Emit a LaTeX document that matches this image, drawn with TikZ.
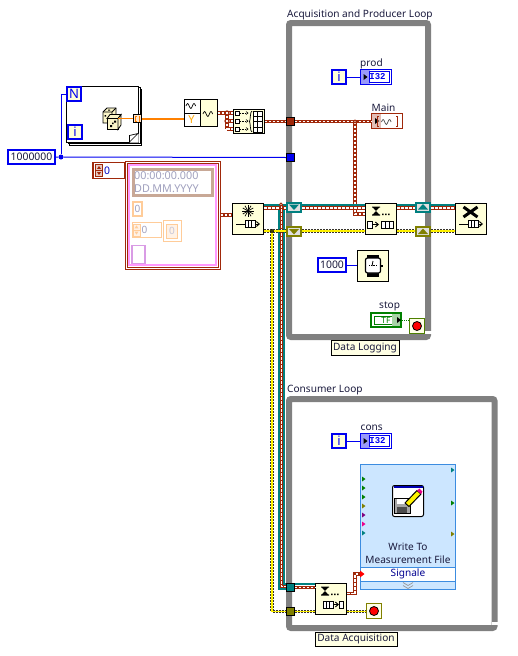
\documentclass[tikz,border=0pt]{standalone}
\usepackage{fontspec}
\setmainfont{Noto Sans}
\newfontfamily\lvmono{Liberation Mono}
\usepackage{xcolor}
\definecolor{lvblue}{RGB}{0,0,240}
\definecolor{lvbrown}{RGB}{160,40,10}
\definecolor{lvteal}{RGB}{0,128,128}
\definecolor{lvolive}{RGB}{128,128,0}
\definecolor{lvgreen}{RGB}{0,128,0}
\definecolor{lvorange}{RGB}{255,128,0}
\definecolor{lvgray}{RGB}{128,128,128}
\definecolor{lvcream}{RGB}{255,255,217}
\definecolor{lvtext}{RGB}{25,25,60}
\definecolor{lvpeach}{RGB}{255,204,153}
\definecolor{lvpink}{RGB}{255,153,255}
\definecolor{lvtan}{RGB}{200,168,150}
\definecolor{lvghost}{RGB}{160,160,190}
\definecolor{lvsky}{RGB}{204,230,255}
\definecolor{lvedge}{RGB}{60,140,224}
\usetikzlibrary{arrows.meta,positioning,calc}
\tikzset{
  lvlabel/.style={font=\fontsize{10.1}{12}\selectfont, text=lvtext, inner sep=0pt, anchor=west, yshift=-1.5pt},
  loopframe/.style={draw=lvgray, line width=6pt, rounded corners=2pt, inner sep=0pt},
  loopnote/.style={draw=black, line width=.8pt, fill=lvcream!70!white, inner sep=0pt, font=\fontsize{10.1}{12}\selectfont, text=lvtext},
  iterbox/.style={draw=lvblue, line width=2pt, fill=lvcream, minimum width=14pt, minimum height=14pt, inner sep=0pt, font=\fontsize{13}{13}\selectfont\bfseries, text=lvblue},
  constbox/.style={draw=lvblue, line width=2pt, fill=white, minimum height=14pt, inner sep=0pt, font=\fontsize{10.4}{12}\selectfont, text=lvtext},
  indbox/.style={draw=lvblue, line width=1pt, fill=white, minimum width=31pt, minimum height=15pt, inner sep=0pt},
  funcbox/.style={draw=black, line width=1pt, fill=lvcream, minimum width=31pt, minimum height=31pt, inner sep=0pt},
  tunnelbox/.style={draw=black, line width=.8pt, minimum width=8pt, minimum height=8pt, inner sep=0pt},
  regbox/.style={line width=2pt, fill=black!12, minimum width=14pt, minimum height=9pt, inner sep=0pt},
  stopbox/.style={line width=1pt, fill=lvcream!60!white, minimum width=15pt, minimum height=15pt, inner sep=0pt},
  stopdot/.style={circle, draw=black, line width=.8pt, fill=red, minimum size=9pt, inner sep=0pt},
  junct/.style={circle, minimum size=3pt, inner sep=0pt},
  ghostbox/.style={draw=lvpeach, fill=white, inner sep=0pt, font=\fontsize{10}{12}\selectfont, text=lvghost},
  bluewire/.style={draw=lvblue, line width=1pt},
  brownwire/.style={draw=lvbrown, line width=3.6pt, postaction={draw=white, line width=1.3pt, dash pattern=on 2.5pt off 1.5pt}},
  tealwire/.style={draw=lvteal, line width=2.4pt},
  yellowwire/.style={draw=black!80!olive, line width=3.2pt, dash pattern=on 2pt off 1pt, postaction={draw=yellow, solid, line width=1.3pt}},
}
% small glyphs
\newcommand{\lvwave}[3]{\draw[line width=.7pt, #3] (#1,#2) sin ++(1.6,-2.5) cos ++(1.6,2.5) sin ++(1.6,2.5) cos ++(1.6,-2.5) sin ++(1.6,-2.5) cos ++(1.6,2.5);}
\newcommand{\lvcells}[3]{\draw[line width=.9pt, fill=white] (#1,#2-3.5) rectangle ++(#3,7); \draw[line width=.9pt] (#1+#3/3,#2-3.5) -- ++(0,7) (#1+2*#3/3,#2-3.5) -- ++(0,7);}
\newcommand{\lvhourglass}[2]{\fill[black] (#1-4,#2-4.5) rectangle ++(8,1.2) (#1-4,#2+3.3) rectangle ++(8,1.2) (#1-3,#2-3.3) -- ++(6,0) -- (#1,#2) -- (#1+3,#2+3.3) -- ++(-6,0) -- (#1,#2) -- cycle; \fill[black] (#1+6,#2+2.6) rectangle ++(1.6,1.6) (#1+9,#2+2.6) rectangle ++(1.6,1.6) (#1+12,#2+2.6) rectangle ++(1.6,1.6);}
\newcommand{\lvspin}[3]{\draw[#3, line width=.7pt, fill=#3!25] (#1,#2-6) rectangle ++(7,12) (#1,#2) -- ++(7,0); \fill[#3] (#1+3.5,#2-4.6) -- ++(2,3) -- ++(-4,0) -- cycle (#1+3.5,#2+4.6) -- ++(2,-3) -- ++(-4,0) -- cycle;}
\newcommand{\lvtip}[2]{\fill[black] (#1,#2-3) -- ++(4,3) -- ++(-4,3) -- cycle;}
\newcommand{\lvterm}[3]{\fill[#3] (#1,#2-2.5) -- ++(3.5,2.5) -- ++(-3.5,2.5) -- cycle;}
\begin{document}
\begin{tikzpicture}[x=1pt,y=-1pt]
  \useasboundingbox (0,0) rectangle (517,656);
  \coordinate (tealrow) at (0,205);
  \coordinate (brownrow) at (0,208);
  \coordinate (yellowrow) at (0,231);

  %--- Loop frames ---
  \node[loopframe, minimum width=139pt, minimum height=314pt] (prodloop) at (358.5,180) {};
  \fill[white] (425,330.7) rectangle (431.5,334);
  \node[loopframe, minimum width=205.5pt, minimum height=229pt] (consloop) at (391.75,513.5) {};
  \fill[white] (491.5,622) rectangle (498,625);
  \node[lvlabel] (prodtitle) at (287,13) {Acquisition and Producer Loop};
  \node[lvlabel] (constitle) at (287,389) {Consumer Loop};
  \node[loopnote, minimum width=68pt, minimum height=15pt] (lognote) at (365,347.5) {Data Logging};
  \node[loopnote, minimum width=82pt, minimum height=14pt] (acqnote) at (356,639) {Data Acquisition};

  %--- For loop ---
  \node[draw=black, line width=1pt, fill=white, minimum width=72pt, minimum height=56pt, inner sep=0pt] (forback) at (105.5,117) {};
  \node[draw=black, line width=1pt, fill=white, minimum width=72pt, minimum height=56pt, inner sep=0pt] (formid) at (104,115.5) {};
  \node[draw=black, line width=1pt, fill=white, minimum width=72pt, minimum height=56pt, inner sep=0pt] (forfront) at (102,114) {};
  \fill[white] (129.5,142.6) -- (138.6,133.5) -- (138.6,142.6) -- cycle;
  \draw[line width=.7pt] (129.5,142) -- (138,133.5) -- (129.5,135.5) -- cycle;
  \node[iterbox] (forN) at (74,94) {N};
  \node[iterbox] (fori) at (75,132) {i};
  \node[constbox, minimum width=47pt] (count) at (31.5,157) {1000000};
  % dice
  \definecolor{lvdie}{RGB}{250,245,200}
  \draw[line width=.8pt, fill=lvdie] (103,112) -- (107,108) -- (116,108) -- (116,118) -- (112,123) -- (103,123) -- cycle;
  \draw[line width=.8pt] (103,112) -- (112,112) -- (116,108) (112,112) -- (112,123);
  \fill[black] (104.5,115) rectangle ++(1.6,1.6) (108,109.5) rectangle ++(2,1);
  \node[draw=black, line width=.8pt, fill=lvdie, minimum width=11pt, minimum height=11pt, inner sep=0pt] (dice) at (112.5,124) {};
  \draw[line width=.8pt, fill=lvdie] (107,118.5) -- (110,114.5) -- (121,114.5) -- (118,118.5) -- cycle;
  \draw[line width=.8pt, fill=lvdie] (118,118.5) -- (121,114.5) -- (121,125) -- (118,129.5) -- cycle;
  \fill[black] (110,125) rectangle ++(2,2) (114,120.5) rectangle ++(2,2) (112,122.5) rectangle ++(1.6,1.6);
  \node[tunnelbox, fill=lvpeach!50!white] (fortun) at (137.5,118.5) {};
  \draw[lvorange, line width=1pt] (136.5,116) -- (135.5,116) -- (135.5,121) -- (136.5,121) (138.5,116) -- (139.5,116) -- (139.5,121) -- (138.5,121);

  %--- Waveform build and matrix ---
  \node[draw=black, line width=1pt, fill=lvcream, minimum width=33pt, minimum height=27pt, inner sep=0pt] (build) at (200.5,113) {};
  \draw[line width=.8pt, fill=white] (184,99.5) rectangle (200.5,126.5);
  \draw[line width=.8pt] (184,113) -- (200.5,113);
  \lvwave{186}{106}{black}
  \lvwave{203}{114}{black}
  \node[font=\fontsize{11}{11}\selectfont\bfseries, text=lvorange!70!yellow, inner sep=0pt] (buildY) at (191.5,120) {Y};
  \node[funcbox, minimum width=31pt, minimum height=24pt] (matrix) at (248.5,121.5) {};
  \foreach \y in {113,121,129}{
    \draw[line width=.7pt, fill=white] (235,\y-2) rectangle ++(4,4);
    \draw[line width=.6pt, densely dotted] (240,\y) -- (246,\y);
    \draw[line width=.6pt] (246,\y-1.5) -- (248,\y) -- (246,\y+1.5);
  }
  \draw[line width=.7pt] (252,111) .. controls (250,111) and (250.5,121) .. (249.5,121.5) .. controls (250.5,122) and (250,132) .. (252,132);
  \draw[line width=.8pt, fill=white] (253,111) rectangle (262.5,132);
  \draw[line width=.8pt] (257.7,111) -- (257.7,132);
  \foreach \y in {116,121.5,127}{\draw[line width=.8pt] (253,\y) -- (262.5,\y);}

  %--- Cluster constant ---
  \node[draw=lvbrown, line width=1.4pt, fill=white, minimum width=32pt, minimum height=16pt, inner sep=0pt] (clsize) at (109,170.5) {};
  \lvspin{95.5}{170.5}{lvbrown}
  \node[font=\fontsize{10.4}{12}\selectfont, text=lvblue!80!black, inner sep=0pt] (clsizeval) at (107,170.5) {0};
  \node[draw=lvbrown, line width=1pt, fill=white, minimum width=95pt, minimum height=108pt, inner sep=0pt] (clouter) at (172.5,215) {};
  \node[draw=lvbrown, line width=.8pt, fill=white, minimum width=91pt, minimum height=104pt, inner sep=0pt] (clmid) at (172.5,215) {};
  \node[draw=lvpink, line width=1.5pt, fill=white, minimum width=87pt, minimum height=100pt, inner sep=0pt] (clinner) at (172.5,215) {};
  \node[draw=lvtan, line width=3pt, fill=white, minimum width=79pt, minimum height=26pt, inner sep=0pt] (stamp) at (173,182.5) {};
  \node[lvlabel, font=\fontsize{10.8}{12}\selectfont, text=lvghost, yshift=1.5pt] (stampa) at (134,176) {00:00:00.000};
  \node[lvlabel, font=\fontsize{10.8}{12}\selectfont, text=lvghost, yshift=1.5pt] (stampb) at (134,189) {DD.MM.YYYY};
  \node[ghostbox, line width=2pt, minimum width=9pt, minimum height=14pt] (clzero) at (137.5,209) {0};
  \node[ghostbox, line width=1.2pt, minimum width=29pt, minimum height=15pt] (clnum) at (147,230) {};
  \lvspin{133}{230}{lvpeach}
  \node[font=\fontsize{10}{12}\selectfont, text=lvghost, inner sep=0pt] (clnumval) at (144.5,230) {0};
  \node[ghostbox, line width=1pt, minimum width=18pt, minimum height=21pt] (clring) at (172.5,231) {};
  \node[ghostbox, line width=1pt, fill=lvpeach!25, minimum width=11pt, minimum height=14pt, text=lvghost!60] (clringval) at (172,231) {0};
  \node[draw=lvpink!60!lvghost, line width=1.5pt, fill=white, minimum width=13pt, minimum height=18pt, inner sep=0pt] (clbox) at (138.5,254.5) {};

  %--- Queue functions ---
  \node[funcbox] (obtain) at (248,219) {};
  \foreach \a in {0,30,...,330}{\draw[line width=.7pt] (248,211) -- ++(\a:6);}
  \draw[line width=.9pt, -{Straight Barb[length=3pt,width=5pt]}] (236,224) -- (260,224);
  \lvcells{245}{224}{10}
  \node[funcbox] (dequeue) at (381,219) {};
  \lvhourglass{376}{211}
  \draw[line width=.9pt, fill=white] (367,221) rectangle (372,228);
  \draw[line width=.9pt, -{Straight Barb[length=3pt,width=5pt]}] (372,224.5) -- (379,224.5);
  \lvcells{381}{224.5}{12}
  \node[funcbox] (release) at (471,219) {};
  \draw[line width=3pt] (463.5,207) -- (477.5,217) (477.5,207) -- (463.5,217);
  \draw[line width=.9pt, -{Straight Barb[length=3pt,width=5pt]}] (459,224) -- (483,224);
  \lvcells{468}{224}{10}
  \node[funcbox] (dequeuetwo) at (331,599) {};
  \lvhourglass{325}{591}
  \lvcells{323}{604.5}{10}
  \draw[line width=.9pt, -{Straight Barb[length=3pt,width=5pt]}] (333,604.5) -- (339,604.5);
  \draw[line width=.9pt, fill=white] (339.5,601) rectangle (343.5,608);

  %--- Shift registers and tunnels ---
  \node[regbox, draw=lvteal] (regtl) at (294,207) {};
  \node[regbox, draw=lvolive] (regyl) at (294,231.5) {};
  \node[regbox, draw=lvteal] (regtr) at (423,207) {};
  \node[regbox, draw=lvolive] (regyr) at (423,231.5) {};
  \fill[lvteal] (289,204.5) -- (299,204.5) -- (294,210) -- cycle;
  \fill[lvolive] (289,229) -- (299,229) -- (294,234.5) -- cycle;
  \fill[lvteal] (418,209.5) -- (428,209.5) -- (423,204) -- cycle;
  \fill[lvolive] (418,234) -- (428,234) -- (423,228.5) -- cycle;
  \node[tunnelbox, fill=lvbrown] (tunmain) at (290.5,121.5) {};
  \node[tunnelbox, fill=lvblue] (tuncount) at (290.5,157.5) {};
  \node[tunnelbox, fill=lvteal] (tunteal) at (290.5,587.5) {};
  \node[tunnelbox, fill=lvolive] (tunyell) at (290.5,611.5) {};

  %--- Indicators ---
  \node[lvlabel] (prodlabel) at (360,62) {prod};
  \node[iterbox] (iprod) at (339,77) {i};
  \node[indbox] (prod) at (376,77) {};
  \fill[lvblue!40] (361,70) rectangle (370,84);
  \lvtip{363.5}{77}
  \node[font=\lvmono\fontsize{9}{9}\selectfont\bfseries, text=lvblue, inner sep=0pt] (prodtype) at (377.5,77) {I32};
  \draw[lvblue, line width=.7pt] (369,71.5) rectangle (389,82.5);
  \node[lvlabel] (mainlabel) at (371.5,106) {Main};
  \node[indbox, draw=lvbrown] (mainind) at (387,121) {};
  \fill[lvbrown!30] (372,114) rectangle (381,128);
  \lvtip{375}{121}
  \lvwave{381.5}{122}{black!70}
  \draw[lvbrown, line width=.8pt] (379,116) -- (377.5,116) -- (377.5,126) -- (379,126) (396,116) -- (397.5,116) -- (397.5,126) -- (396,126);
  \node[lvlabel] (conslabel) at (360.5,426) {cons};
  \node[iterbox] (icons) at (339,441) {i};
  \node[indbox] (consind) at (376,441) {};
  \fill[lvblue!40] (361,434) rectangle (370,448);
  \lvtip{363.5}{441}
  \node[font=\lvmono\fontsize{9}{9}\selectfont\bfseries, text=lvblue, inner sep=0pt] (constype) at (377.5,441) {I32};
  \draw[lvblue, line width=.7pt] (369,435.5) rectangle (389,446.5);

  %--- Wait and stop ---
  \node[constbox, minimum width=28pt] (waitms) at (332,265) {1000};
  \node[funcbox] (wait) at (373,266) {};
  \fill[black] (367,255) rectangle (379,277);
  \draw[line width=1.2pt, fill=white, rounded corners=2pt] (365.5,258) rectangle (380.5,273);
  \fill[black] (381,264.5) rectangle (382.5,266.5);
  \draw[line width=.8pt, densely dotted] (369,265.5) -- (377,265.5);
  \draw[line width=.8pt] (373,261) -- (372,266);
  \node[lvlabel] (stoplabel) at (379,305) {stop};
  \node[draw=lvgreen, line width=2pt, fill=white, minimum width=30pt, minimum height=14pt, inner sep=0pt] (stopctl) at (386,320) {};
  \draw[lvgreen, line width=.7pt] (374,316) rectangle (398,324);
  \fill[lvgreen!35] (392,314) rectangle (400,326);
  \node[font=\fontsize{8.5}{9}\selectfont\bfseries, text=lvgreen, inner sep=0pt] (stopval) at (386,320.5) {TF};
  \lvtip{397}{320}
  \node[stopbox, draw=lvolive!60!lvgreen] (stopa) at (417,326) {};
  \node[stopdot] (stopadot) at (417,326) {};
  \node[stopbox, draw=lvolive] (stopb) at (374,611) {};
  \node[stopdot] (stopbdot) at (374,611) {};

  %--- Write To Measurement File ---
  \node[draw=lvedge, line width=1pt, fill=lvsky, minimum width=95pt, minimum height=125pt, inner sep=0pt] (writer) at (408,527) {};
  \node[draw=black, line width=1pt, fill=white, rounded corners=2pt, minimum width=31pt, minimum height=31pt, inner sep=0pt] (writeicon) at (408,501) {};
  \fill[blue!70!black] (393.5,486) rectangle (422.5,488);
  \draw[line width=.7pt, fill=black!35] (394,498) rectangle (410,513);
  \fill[white] (397,498.5) rectangle (407,504);
  \fill[black!70] (397,507) rectangle (407,512.5);
  \draw[line width=1pt, fill=yellow] (405,503) -- (417,490.5) -- (421,494) -- (409,506.5) -- cycle;
  \fill[magenta] (417,490.5) -- (419.5,488.5) -- (422.5,491.5) -- (421,494) -- cycle;
  \node[font=\fontsize{10.1}{13}\selectfont, text=lvtext, align=center, inner sep=0pt] (writename) at (408,553.5) {Write To\\Measurement File};
  \node[draw=lvedge, line width=1pt, fill=white, minimum width=95pt, minimum height=14pt, inner sep=0pt, font=\fontsize{10.1}{12}\selectfont, text=lvblue!60!black] (signals) at (408,574) {Signale};
  \draw[black!40, line width=.7pt] (403,582.5) -- (408,585.5) -- (413,582.5) (403,585.5) -- (408,588.5) -- (413,585.5);
  \foreach \y/\c in {479/lvgreen,488/lvgreen,497/lvgreen,506/lvolive,515/violet,524/magenta,533/lvteal}{\lvterm{362}{\y}{\c}}
  \foreach \y/\c in {470/lvteal,503/lvgreen,534/lvolive}{\lvterm{451}{\y}{\c}}

  %--- Blue wires ---
  \node[junct, fill=lvblue, minimum size=5pt] (countjoin) at (61,157) {};
  \draw[bluewire] (count.east) -- (countjoin) -- (tuncount.west);
  \draw[bluewire] (countjoin) |- (forN.west);
  \draw[bluewire] (iprod) -- (prod);
  \draw[bluewire] (icons) -- (consind);
  \draw[bluewire] (waitms.east) -- (wait.west |- waitms.east);
  \draw[lvgreen, line width=1pt, densely dotted] (stopctl.east) -- (stopctl.east -| stopa.west);

  %--- Data wires ---
  \draw[lvorange, line width=1pt] (dice.east |- fortun.west) -- (fortun.west);
  \draw[lvorange, line width=2pt] (fortun.east) -- (build.west |- fortun.east);
  \coordinate (joinc) at (227,129);
  \draw[brownwire] (build.east) -- (227,113) -- (joinc);
  \draw[brownwire] (227,113) -- (matrix.west |- 227,113);
  \draw[brownwire] (227,121) -- (matrix.west |- 227,121);
  \draw[brownwire] (joinc) -- (matrix.west |- joinc);
  \node[junct, draw=lvbrown, line width=1.2pt, fill=white, minimum size=4pt] (joina) at (227,113) {};
  \node[junct, draw=lvbrown, line width=1.2pt, fill=white, minimum size=4pt] (joinb) at (227,121) {};
  \draw[brownwire] (matrix.east) -- (tunmain.west);
  \coordinate (mainbend) at (355,214);
  \draw[brownwire] (tunmain.east) -- (mainind.west |- tunmain.east);
  \draw[brownwire] (355,121.5) -- (mainbend) -- (dequeue.west |- mainbend);
  \node[junct, draw=lvbrown, line width=1pt, fill=white] (mainjoin) at (355,121.5) {};

  % refnum and error wires
  \draw[brownwire] (clouter.east) -- (obtain.west |- clouter.east);
  \coordinate (refdown) at (281.5,205);
  \coordinate (refturn) at (281.5,586.5);
  \draw[lvteal, line width=6.4pt] (281.5,207) -- (refturn) -- (tunteal.west |- refturn);
  \draw[tealwire] (obtain.east |- tealrow) -- (regtl.west |- tealrow);
  \draw[tealwire] (regtl.east |- tealrow) -- (dequeue.west |- tealrow);
  \draw[tealwire] (dequeue.east |- tealrow) -- (regtr.west |- tealrow);
  \draw[tealwire] (regtr.east |- tealrow) -- (release.west |- tealrow);
  \draw[brownwire] (obtain.east |- brownrow) -- (regtl.west |- brownrow);
  \draw[brownwire] (regtl.east |- brownrow) -- (dequeue.west |- brownrow);
  \draw[brownwire] (dequeue.east |- brownrow) -- (regtr.west |- brownrow);
  \draw[brownwire] (regtr.east |- brownrow) -- (release.west |- brownrow);
  \draw[brownwire] (refdown) -- (refturn) -- (tunteal.west |- refturn);
  \draw[tealwire] (tunteal.east |- 0,584) -- (dequeuetwo.west |- 0,584);
  \draw[brownwire] (tunteal.east |- 0,587.5) -- (dequeuetwo.west |- 0,587.5);
  \node[junct, draw=lvbrown, line width=1pt, fill=white] (refjoin) at (281,204.5) {};
  \coordinate (sigbend) at (355,593.5);
  \draw[brownwire] (dequeuetwo.east |- sigbend) -- (sigbend) -- (sigbend |- signals.west) -- (signals.west);
  \fill[red] (360,570.5) -- (364.5,574) -- (360,577.5) -- cycle;

  % element wires
  \draw[yellowwire] (obtain.east |- yellowrow) -- (regyl.west |- yellowrow);
  \draw[yellowwire] (regyl.east |- yellowrow) -- (dequeue.west |- yellowrow);
  \draw[yellowwire] (dequeue.east |- yellowrow) -- (regyr.west |- yellowrow);
  \draw[yellowwire] (regyr.east |- yellowrow) -- (release.west |- yellowrow);
  \coordinate (elemturn) at (272,611.5);
  \draw[yellowwire] (272,231) -- (elemturn) -- (tunyell.west);
  \node[junct, draw=black, line width=1pt, fill=yellow] (elemjoin) at (272,231) {};
  \draw[yellowwire] (tunyell.east) -- (dequeuetwo.west |- tunyell.east);
  \draw[yellowwire] (dequeuetwo.east |- tunyell.east) -- (stopb.west |- tunyell.east);
\end{tikzpicture}
\end{document}
